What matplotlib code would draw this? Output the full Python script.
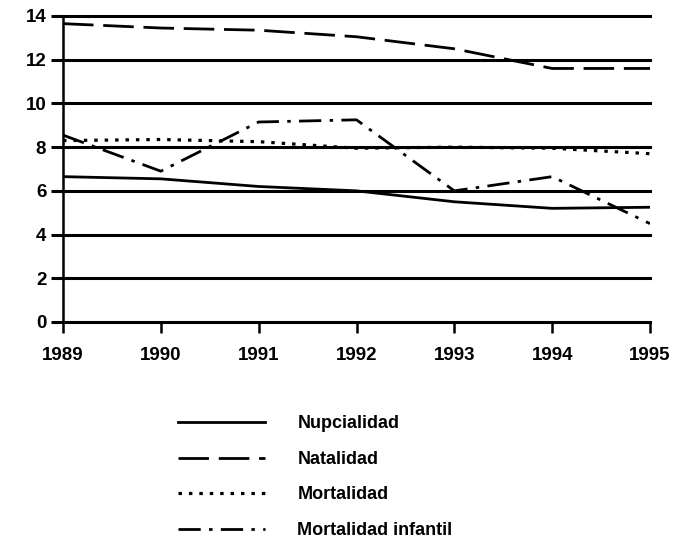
import matplotlib
matplotlib.use("Agg")
import matplotlib.pyplot as plt

years = [1989, 1990, 1991, 1992, 1993, 1994, 1995]
nupcialidad = [6.65, 6.55, 6.2, 6.0, 5.5, 5.2, 5.25]
natalidad = [13.65, 13.45, 13.35, 13.05, 12.5, 11.6, 11.6]
mortalidad = [8.3, 8.35, 8.25, 7.95, 8.0, 7.95, 7.7]
mortalidad_infantil = [8.55, 6.9, 9.15, 9.25, 6.0, 6.65, 4.5]
labels = ["Nupcialidad", "Natalidad", "Mortalidad", "Mortalidad infantil"]
yticks = [0, 2, 4, 6, 8, 10, 12, 14]

plt.rcParams['font.family'] = ['Liberation Sans', 'DejaVu Sans']
plt.rcParams['font.weight'] = 'bold'
plt.rcParams['lines.scale_dashes'] = False

fig = plt.figure(figsize=(6.79, 5.49), dpi=100)
ax = fig.add_axes([63/679, 1-322/549, (650-63)/679, (322-16)/549])

lw = 2.0
l1, = ax.plot(years, nupcialidad, color='black', lw=lw, ls='-')
l2, = ax.plot(years, natalidad, color='black', lw=lw, dashes=(22, 7))
l3, = ax.plot(years, mortalidad, color='black', lw=lw + 0.3, dashes=(2.5, 5))
l4, = ax.plot(years, mortalidad_infantil, color='black', lw=lw, dashes=(16, 6, 2.5, 6))

ax.set_xlim(1989, 1995)
ax.set_ylim(0, 14)
ax.set_yticks(yticks)
ax.set_xticks(years)
ax.grid(axis='y', color='black', lw=2.2)
ax.set_axisbelow(True)
for s in ['top', 'right']:
    ax.spines[s].set_visible(False)
ax.spines['left'].set_linewidth(1.8)
ax.spines['bottom'].set_linewidth(1.8)
ax.tick_params(axis='y', direction='out', length=9, width=2.2, labelsize=13.5, pad=3)
ax.tick_params(axis='x', direction='out', length=8, width=1.8, labelsize=13.5, pad=10)
for t in ax.get_xticklabels() + ax.get_yticklabels():
    t.set_fontweight('bold')
for gl in ax.get_ygridlines():
    gl.set_clip_on(False)

leg = fig.legend([l1, l2, l3, l4], labels, loc='upper left',
                 bbox_to_anchor=(162/679, 1-399/549), frameon=False,
                 fontsize=13, handlelength=4.8, handletextpad=1.8,
                 labelspacing=1.03)
for t in leg.get_texts():
    t.set_fontweight('bold')

fig.savefig('out.png', dpi=100)
